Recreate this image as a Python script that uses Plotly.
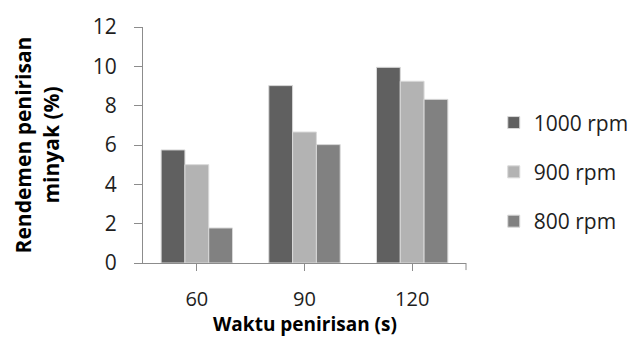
import plotly.graph_objects as go

# Drain time categories (s)
categories = ["60", "90", "120"]

# Oil yield (%) per spin speed
series_names = ["1000 rpm", "900 rpm", "800 rpm"]
yield_1000 = [5.75, 9.02, 9.95]
yield_900 = [5.0, 6.66, 9.24]
yield_800 = [1.78, 6.02, 8.32]

y_ticks = [0, 2, 4, 6, 8, 10, 12]

colors = ["#606060", "#b3b3b3", "#818181"]
values = [yield_1000, yield_900, yield_800]

FONT = "'Open Sans', sans-serif"
AXIS_COLOR = "#8c8c8c"
TEXT_COLOR = "#1e1e1e"

fig = go.Figure()
for i, (name, vals) in enumerate(zip(series_names, values)):
    fig.add_trace(go.Bar(
        x=categories, y=vals, name=name,
        marker=dict(color=colors[i], line=dict(color="#d9d9d9", width=1)),
        legendgroup=name,
    ))

fig.update_layout(
    width=636, height=338,
    margin=dict(l=143, r=170, t=27, b=75, autoexpand=False),
    paper_bgcolor="white", plot_bgcolor="white",
    barmode="group", bargap=0.337, bargroupgap=0,
    font=dict(family=FONT, size=20, color=TEXT_COLOR),
    showlegend=True,
    legend=dict(
        x=1.086, xanchor="left", y=0.386, yanchor="middle",
        font=dict(size=21, color=TEXT_COLOR),
        tracegroupgap=19, bgcolor="rgba(0,0,0,0)",
    ),
    xaxis=dict(
        type="category", showgrid=False, showline=True, linecolor=AXIS_COLOR, linewidth=1,
        ticks="outside", ticklen=7, tickcolor=AXIS_COLOR,
        ticklabelstandoff=11, tickfont=dict(size=20),
        range=[-0.5, 2.5],
    ),
    yaxis=dict(
        range=[0, 12], tickvals=y_ticks, showgrid=False, zeroline=False,
        showline=True, linecolor=AXIS_COLOR, linewidth=1,
        ticks="outside", ticklen=8, tickcolor=AXIS_COLOR,
        ticklabelstandoff=13, tickfont=dict(size=21),
    ),
    annotations=[
        dict(text="<b>Waktu penirisan (s)</b>", xref="paper", yref="paper",
             x=0.5, y=-0.318, xanchor="center", yanchor="bottom",
             showarrow=False, borderpad=0, font=dict(size=19, color="#000000")),
        dict(text="<b>Rendemen penirisan<br>minyak (%)</b>", xref="paper", yref="paper",
             x=-0.33, y=0.5, xanchor="center", yanchor="middle", textangle=-90,
             showarrow=False, font=dict(size=21, color="#000000")),
    ],
)

# short tick at the right end of the category axis
fig.add_shape(type="line", xref="paper", yref="paper", x0=1, x1=1, y0=0, y1=-0.03,
              line=dict(color=AXIS_COLOR, width=1))

fig.write_html("out.html")
